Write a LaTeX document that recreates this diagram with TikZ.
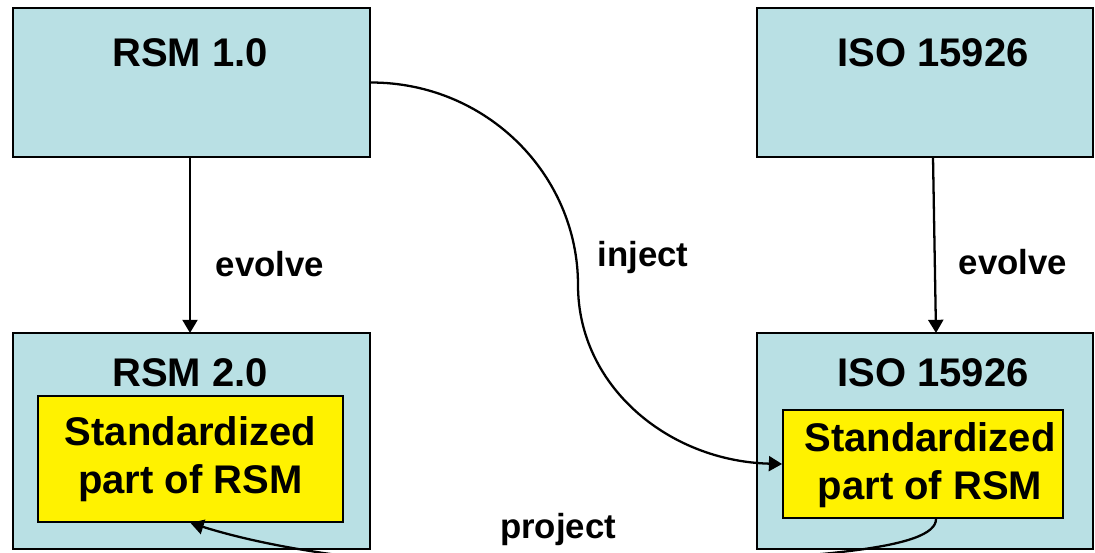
\documentclass[tikz,border=0pt]{standalone}
\usepackage{fontspec}
\setmainfont{Liberation Sans}
\usetikzlibrary{arrows.meta,calc}
\definecolor{boxblue}{RGB}{185,224,228}
\begin{document}
\begin{tikzpicture}[x=0.02cm,y=-0.02cm,
 bluebox/.style={draw=black,line width=1.1pt,fill=boxblue,inner sep=0pt},
 yellowbox/.style={draw=black,line width=1.1pt,fill=yellow,inner sep=0pt},
 ytext/.style={inner sep=0pt,align=center,font=\fontsize{22.76}{27.3}\selectfont\bfseries},
 title/.style={font=\fontsize{22.76}{27}\selectfont\bfseries,inner sep=0pt,anchor=base},
 lbl/.style={font=\fontsize{19.8}{24}\selectfont\bfseries,inner sep=0pt,anchor=base},
 conn/.style={line width=1.3pt,-{Triangle[length=7.5pt,width=8.5pt]}}]
\useasboundingbox (0,0) rectangle (1095,552);
% boxes
\node[bluebox,minimum width=7.14cm,minimum height=2.98cm] (r1) at (191.5,82.5) {};
\node[bluebox,minimum width=6.72cm,minimum height=2.98cm] (i1) at (925,82.5) {};
\node[bluebox,minimum width=7.14cm,minimum height=4.32cm] (r2) at (191.5,441) {};
\node[bluebox,minimum width=6.72cm,minimum height=4.32cm] (i2) at (925,441) {};
\node[yellowbox,minimum width=6.1cm,minimum height=2.52cm] (yl) at (190.5,459) {};
\node[yellowbox,minimum width=5.6cm,minimum height=2.16cm] (yr) at (923,464) {};
\node[ytext] (ylt) at (190.5,459) {Standardized\\part of RSM};
\node[ytext] (yrt) at (930,465) {Standardized\\part of RSM};
% titles
\node[title] (t1) at (190,66) {RSM 1.0};
\node[title] (t2) at (933,66) {ISO 15926};
\node[title] (t3) at (190,386) {RSM 2.0};
\node[title] (t4) at (933,386) {ISO 15926};
% labels
\node[lbl] (l1) at (270,276) {evolve};
\node[lbl] (l2) at (1013,274) {evolve};
\node[lbl] (l3) at (643,266) {inject};
\node[lbl] (l4) at (558,538) {project};
% connectors
\coordinate (a1) at (190,157);
\coordinate (a2) at (190,333);
\coordinate (b1) at (933,157);
\coordinate (b2) at (936,333);
\draw[conn] (a1) -- (a2);
\draw[conn] (b1) -- (b2);
\coordinate (mid) at (578,285);
\draw[conn] (r1.east) .. controls +(116,0) and +(0,-110) .. (mid)
  .. controls +(0,101) and +(-114,-3) .. (yr.west);
\begin{scope}
\clip (0,0) rectangle (1095,552);
\coordinate (ps) at ($(yr.south)+(13,0)$);
\coordinate (pm) at (560,566);
\draw[conn] (ps) .. controls +(0,30) and +(260,-6) .. (pm)
  .. controls +(-180,4) and +(70,22) .. (yl.south);
\end{scope}
\end{tikzpicture}
\end{document}
